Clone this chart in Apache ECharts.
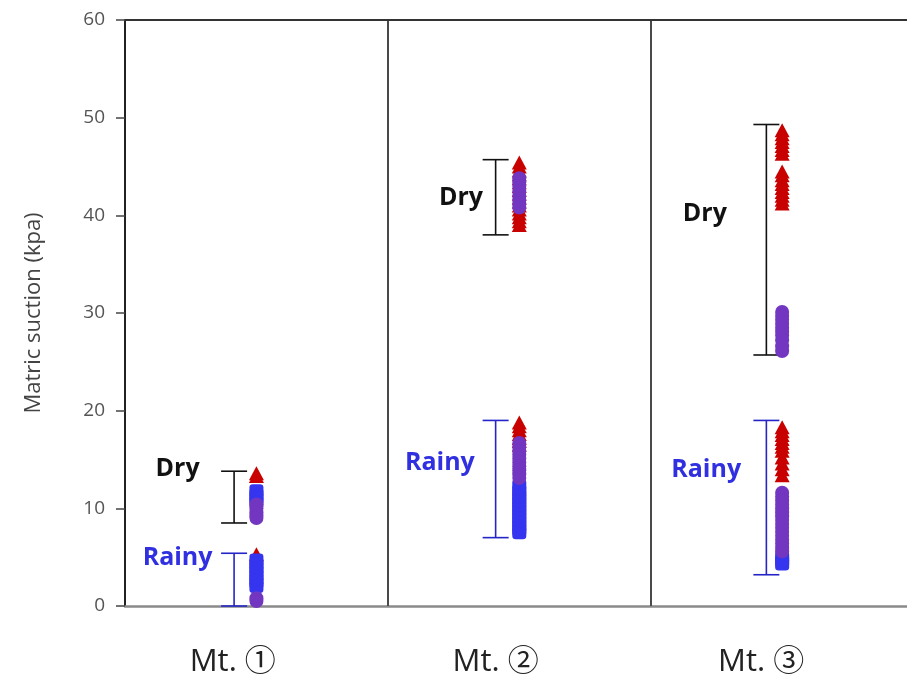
<!DOCTYPE html>
<html>
<head>
<meta charset="utf-8">
<script src="https://cdn.jsdelivr.net/npm/echarts@6/dist/echarts.min.js"></script>
<style>
  html, body { margin: 0; padding: 0; background: #fff; }
  #chart { width: 907px; height: 685px; }
</style>
</head>
<body>
<div id="chart"></div>
<script>
// Sites and axis ticks
const sites = ['Mt. ①', 'Mt. ②', 'Mt. ③'];
const yTicks = [0, 10, 20, 30, 40, 50, 60];

// Measured matric suction (kPa), one array per site / season / sensor group
const mt1DryTri = [13.6, 13.3];
const mt1DrySq = [11.8, 11.4, 11.0, 10.6];
const mt1DryCir = [10.4, 10.0, 9.6, 9.3, 9.0];
const mt1RainyTri = [5.3];
const mt1RainySq = [4.7, 4.3, 3.9, 3.5, 3.1, 2.7, 2.4, 2.0];
const mt1RainyCir = [0.8, 0.5];

const mt2DryTri = [45.4, 45.0, 44.6, 44.2, 43.8, 43.4, 43.0, 42.6, 42.2, 41.8, 41.4, 41.0, 40.6, 40.2, 39.8, 39.4, 39.0];
const mt2DryCir = [43.8, 43.4, 43.0, 42.5, 42.0, 41.6, 41.2, 40.8];
const mt2RainyTri = [18.8, 18.4, 18.0, 17.6, 17.2, 16.9, 16.5];
const mt2RainyCir = [16.7, 16.3, 15.9, 15.5, 15.1, 14.7, 14.3, 13.9, 13.5, 13.1];
const mt2RainySq = [12.3, 11.8, 11.4, 11.0, 10.6, 10.2, 9.8, 9.4, 9.0, 8.6, 8.2, 7.8, 7.5];

const mt3DryTri = [48.7, 48.3, 47.9, 47.5, 47.1, 46.7, 46.3, 44.5, 44.1, 43.6, 43.2, 42.8, 42.4, 42.0, 41.6, 41.2];
const mt3DryCir = [30.1, 29.7, 29.3, 28.9, 28.5, 28.1, 27.7, 27.2, 26.6, 26.1];
const mt3RainyTri = [18.3, 17.9, 17.5, 17.1, 16.7, 16.3, 15.9, 15.2, 14.6, 14.0, 13.4];
const mt3RainyCir = [11.6, 11.2, 10.8, 10.4, 10.0, 9.6, 9.2, 8.8, 8.4, 8.0, 7.6, 7.2, 6.8, 6.4, 6.0, 5.6];
const mt3RainySq = [5.0, 4.6, 4.3];

// Seasonal ranges [low, high] per site
const dryLow = [8.5, 38.0, 25.7];
const dryHigh = [13.8, 45.7, 49.3];
const rainyLow = [0.0, 7.0, 3.2];
const rainyHigh = [5.4, 19.0, 19.0];

// Layout along the x axis (one unit per site panel)
const columnX = [0.5, 1.5, 2.5];
const rangeX = [0.415, 1.41, 2.44];
const siteLabelX = [0.41, 1.41, 2.42];
const dryTextPos = [[0.20, 14.0], [1.278, 41.8], [2.206, 40.2]];
const rainyTextPos = [[0.20, 4.9], [1.198, 14.7], [2.211, 13.9]];

const RED = '#c80000', BLUE = '#3535f0', PURPLE = '#7236c0';

function pts(site, values) { return values.map(v => [columnX[site], v]); }

const triGroups = [
  [0, mt1DryTri], [0, mt1RainyTri], [1, mt2DryTri], [1, mt2RainyTri], [2, mt3DryTri], [2, mt3RainyTri]
];
const sqGroups = [
  [0, mt1DrySq], [0, mt1RainySq], [1, mt2RainySq], [2, mt3RainySq]
];
const cirGroups = [
  [0, mt1DryCir], [0, mt1RainyCir], [1, mt2DryCir], [1, mt2RainyCir], [2, mt3DryCir], [2, mt3RainyCir]
];
const flat = groups => groups.reduce((acc, g) => acc.concat(pts(g[0], g[1])), []);

function rangeSeries(low, high, color) {
  return {
    type: 'custom',
    z: 3,
    silent: true,
    data: low.map((lo, i) => [rangeX[i], lo, high[i]]),
    renderItem: function (params, api) {
      const x = api.value(0);
      const top = api.coord([x, api.value(2)]);
      const bot = api.coord([x, api.value(1)]);
      const w = 13;
      const style = { stroke: color, lineWidth: 1.6 };
      return {
        type: 'group',
        children: [
          { type: 'line', shape: { x1: top[0], y1: top[1], x2: bot[0], y2: bot[1] }, style: style },
          { type: 'line', shape: { x1: top[0] - w, y1: top[1], x2: top[0] + w, y2: top[1] }, style: style },
          { type: 'line', shape: { x1: bot[0] - w, y1: bot[1], x2: bot[0] + w, y2: bot[1] }, style: style }
        ]
      };
    }
  };
}

function textSeries(pos, text, color, size) {
  return {
    type: 'scatter',
    symbolSize: 0,
    silent: true,
    z: 5,
    itemStyle: { opacity: 1 },
    data: pos.map(p => ({ value: p, name: text })),
    label: {
      show: true, position: 'inside', formatter: '{b}',
      color: color, fontSize: size, fontWeight: 'bold',
      fontFamily: '"Open Sans", "Noto Sans", sans-serif'
    }
  };
}

const chart = echarts.init(document.getElementById('chart'), null, { renderer: 'canvas' });
chart.setOption({
  backgroundColor: '#ffffff',
  animation: false,
  grid: { left: 125, right: 0, top: 20, bottom: 79, containLabel: false },
  xAxis: {
    type: 'value', min: 0, max: 2.975,
    axisLine: { show: true, lineStyle: { color: '#8a8a8a', width: 2.5 } },
    axisTick: { show: false },
    splitLine: { show: false },
    axisLabel: {
      customValues: siteLabelX,
      formatter: v => sites[Math.floor(v)],
      margin: 41, fontSize: 31, color: '#222',
      fontFamily: '"Open Sans", "Noto Sans CJK KR", sans-serif'
    }
  },
  yAxis: {
    type: 'value', min: yTicks[0], max: yTicks[yTicks.length - 1], interval: 10,
    name: 'Matric suction (kpa)', nameLocation: 'middle', nameGap: 80,
    nameTextStyle: { fontSize: 22, color: '#444', fontFamily: '"Open Sans", "Noto Sans", sans-serif' },
    axisLine: { show: true, lineStyle: { color: '#222', width: 2 } },
    axisTick: { show: true, length: 9, lineStyle: { color: '#444', width: 1.5 } },
    axisLabel: { margin: 20, fontSize: 19, color: '#555', fontFamily: '"Open Sans", "Noto Sans", sans-serif' },
    splitLine: { show: false }
  },
  series: [
    {
      type: 'scatter', symbol: 'triangle', symbolSize: [15, 14], z: 2,
      itemStyle: { color: RED, opacity: 1 },
      data: flat(triGroups),
      markLine: {
        silent: true, symbol: 'none', label: { show: false },
        lineStyle: { color: '#4a4a4a', width: 2, type: 'solid' },
        data: [{ xAxis: 1 }, { xAxis: 2 }, { yAxis: 60, lineStyle: { color: '#333', width: 2 } }]
      }
    },
    {
      type: 'scatter', symbol: 'roundRect', symbolSize: [14, 13], z: 3,
      itemStyle: { color: BLUE, opacity: 1 },
      data: flat(sqGroups)
    },
    {
      type: 'scatter', symbol: 'circle', symbolSize: 14, z: 4,
      itemStyle: { color: PURPLE, opacity: 1 },
      data: flat(cirGroups)
    },
    rangeSeries(dryLow, dryHigh, '#111'),
    rangeSeries(rainyLow, rainyHigh, '#2424c8'),
    textSeries(dryTextPos, 'Dry', '#111', 25),
    textSeries(rainyTextPos, 'Rainy', '#3030e0', 25)
  ]
});
</script>
</body>
</html>
